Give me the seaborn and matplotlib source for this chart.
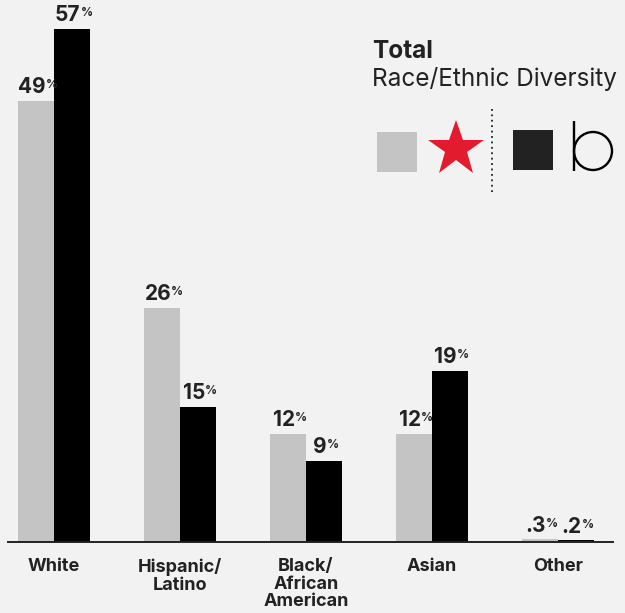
import pandas as pd
import matplotlib.pyplot as plt
import seaborn as sns
from matplotlib.patches import Rectangle, Circle

# data
categories = ['White', 'Hispanic/\nLatino', 'Black/\nAfrican\nAmerican', 'Asian', 'Other']
brands = ['Macys', 'Bloomingdales']
macys_pct = [49, 26, 12, 12, 0.3]
bloom_pct = [57, 15, 9, 19, 0.2]

BG = '#f2f2f2'
GRAY = '#c4c4c4'
BLACK = '#000000'
TXT = '#222222'

sns.set_style('white')
plt.rcParams['font.family'] = ['Inter', 'DejaVu Sans']

df = pd.DataFrame({
    'group': categories * 2,
    'pct': macys_pct + bloom_pct,
    'brand': [brands[0]] * len(categories) + [brands[1]] * len(categories),
})

fig = plt.figure(figsize=(6.25, 6.13), dpi=100, facecolor=BG)
ax = fig.add_axes([8 / 625, 71 / 613, 605 / 625, 542 / 613])
ax.set_facecolor(BG)

sns.barplot(data=df, x='group', y='pct', hue='brand', hue_order=brands,
            palette=[GRAY, BLACK], width=0.571, saturation=1, linewidth=0,
            legend=False, ax=ax)

ax.set_xlim(-0.365, 4.437)
ax.set_ylim(0, 60.2)
for s in ['left', 'top', 'right']:
    ax.spines[s].set_visible(False)
ax.spines['bottom'].set_color(TXT)
ax.spines['bottom'].set_linewidth(1.4)
ax.set_yticks([])
ax.set_xlabel('')
ax.set_ylabel('')
ax.tick_params(axis='x', length=0, pad=11.5)
ax.set_xticks(range(len(categories)))
ax.set_xticklabels(categories, fontsize=13, fontweight='bold', color=TXT,
                   linespacing=1.05)

# value labels with small superscript %
for cont in ax.containers:
    for bar in cont:
        v = bar.get_height()
        num = f'{v:g}'.lstrip('0')
        cx = bar.get_x() + bar.get_width() / 2
        t = ax.annotate(num, xy=(cx, v), xytext=(-3, 5.5), textcoords='offset points',
                        ha='center', va='baseline', fontsize=15, fontweight='bold', color=TXT)
        ax.annotate('%', xy=(1.0, 0.9), xycoords=t, ha='left', va='top',
                    fontsize=8.5, fontweight='bold', color=TXT)

# legend block drawn in pixel space
lax = fig.add_axes([0, 0, 1, 1])
lax.set_xlim(0, 625)
lax.set_ylim(613, 0)
lax.axis('off')
lax.patch.set_visible(False)

lax.text(372, 58, 'Total', fontsize=17.5, fontweight='bold', color=TXT, va='baseline')
lax.text(372, 86, 'Race/Ethnic Diversity', fontsize=17.5, color=TXT, va='baseline')
lax.add_patch(Rectangle((377, 132), 40, 40, color=GRAY, lw=0))
lax.plot([455.5], [149], marker='*', ms=42, color='#e31b2e', mew=0)
lax.plot([492, 492], [109, 192], ls=(0, (1, 2)), color=TXT, lw=1.3)
lax.add_patch(Rectangle((513, 130), 40, 40, color=TXT, lw=0))
lax.plot([574, 574], [121, 171], color=BLACK, lw=1.7, solid_capstyle='butt')
lax.add_patch(Circle((593, 151), 19, fill=False, ec=BLACK, lw=1.7))

fig.savefig('out.png', dpi=100, facecolor=BG)
